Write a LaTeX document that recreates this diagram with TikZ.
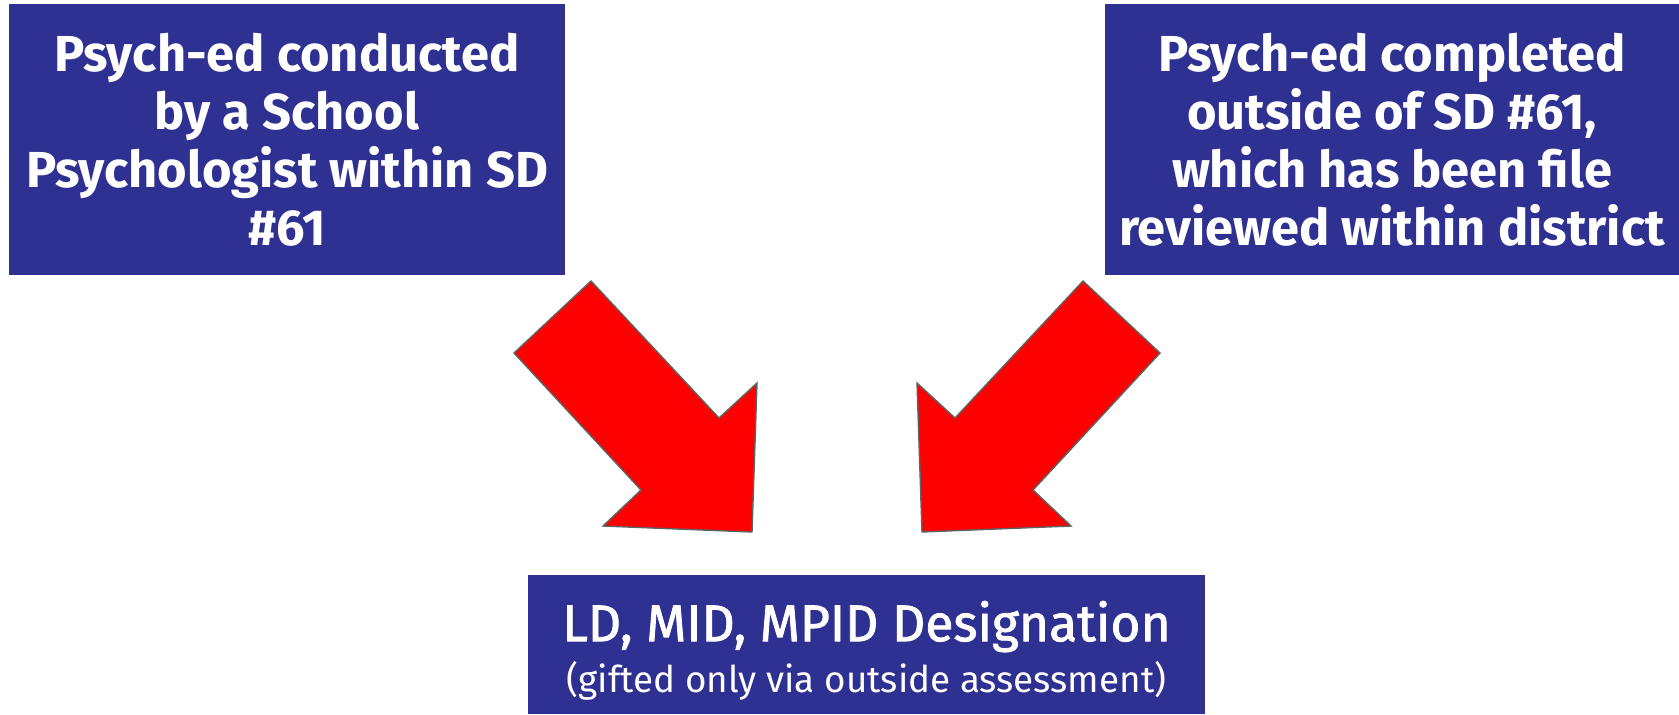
\documentclass[tikz,border=0pt]{standalone}
\usepackage{fontspec}
\setmainfont{Fira Sans}
\newfontfamily\mediumfont[FakeBold=1.5]{Fira Sans}
\usetikzlibrary{positioning}
\definecolor{boxblue}{HTML}{2E3192}
\definecolor{edgegray}{HTML}{5A6464}

\begin{document}
\begin{tikzpicture}[x=0.5pt, y=-0.5pt, box/.style = {fill=boxblue, text=white, inner sep=0pt, align=center}, toptext/.style = {box, font=\fontsize{25.3}{29}\selectfont\bfseries, minimum height=135.5pt}, blockarrow/.style = {fill=red, draw=edgegray, line width=0.7pt, line join=miter}]

    \useasboundingbox (0,0) rectangle (1679,714);

    % boxes
    \node[toptext, minimum width=278pt] (conducted) at (287,139.5) {Psych-ed conducted\\by a School\\Psychologist within SD\\\#61};
    \node[toptext, minimum width=287pt] (completed) at (1392,139.5) {Psych-ed completed\\outside of SD \#61,\\which has been file\\reviewed within district};
    \node[box, minimum width=338.5pt, minimum height=69.5pt] (designation) at (866.5,644.5) {};
    \node[box, fill=none] (designationtext) at ([yshift=-3pt]designation.center) {{\fontsize{25.8}{29}\mediumfont LD, MID, MPID Designation}\\[3.5pt]{\fontsize{18.4}{21}\selectfont (gifted only via outside assessment)}};

    % arrows
    \draw[blockarrow] (591,281) -- (514,353) -- (641,490) -- (603,526) -- (752,532) -- (757,383) -- (719,418) -- cycle;
    \draw[blockarrow] (1083,281) -- (1160,353) -- (1033,490) -- (1071,526) -- (922,532) -- (917,383) -- (955,418) -- cycle;

\end{tikzpicture}
\end{document}
